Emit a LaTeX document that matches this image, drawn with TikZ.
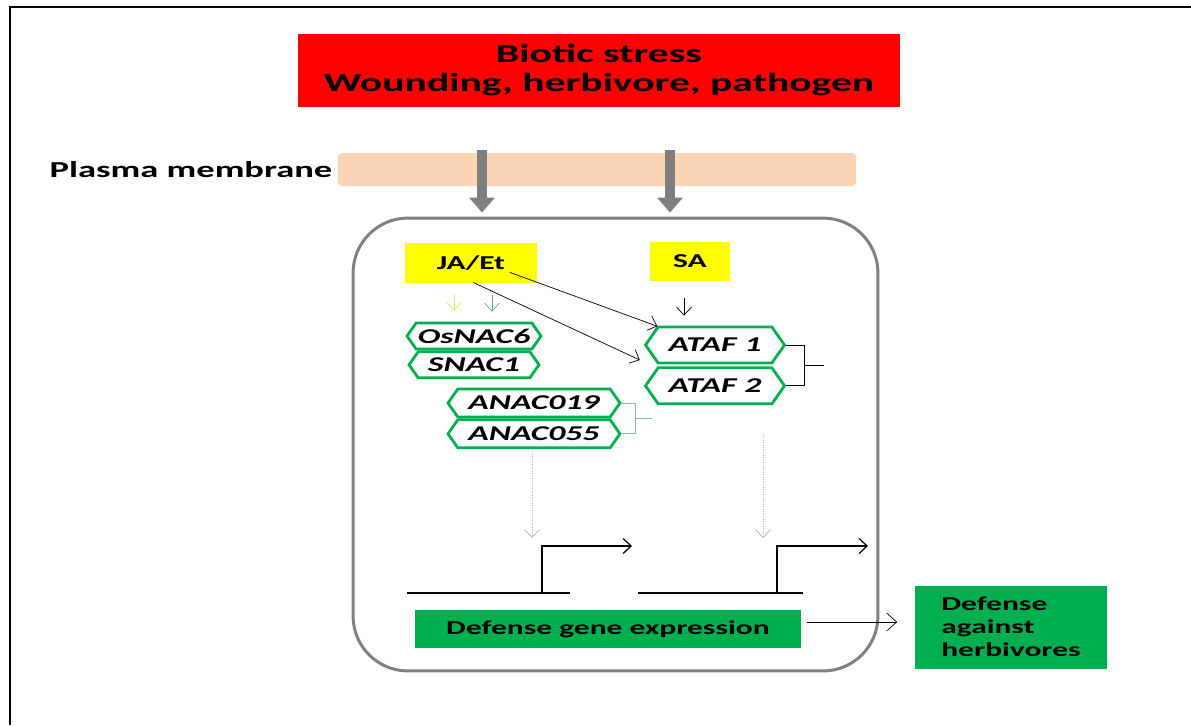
\documentclass[tikz,border=0pt]{standalone}
\usepackage{fontspec}
\setmainfont{Carlito}[FakeStretch=1.6]
\definecolor{StressRed}{HTML}{FF0000}
\definecolor{MembranePeach}{HTML}{FBD5B5}
\definecolor{ArrowGrey}{HTML}{7F7F7F}
\definecolor{CellGrey}{HTML}{808080}
\definecolor{SignalYellow}{HTML}{FFFF00}
\definecolor{NACGreen}{HTML}{00B050}
\definecolor{PaleYellow}{HTML}{E6E65C}
\definecolor{PaleTeal}{HTML}{5FAA8C}
\definecolor{BracketGreen}{HTML}{8FB5A5}
\usepackage{tikz}
\usetikzlibrary{shapes.symbols,arrows.meta,positioning,calc}
\tikzset{
    % coloured boxes
    stress box/.style={
        rectangle,
        fill=StressRed,
        minimum width=12.04cm,
        minimum height=1.46cm,
        align=center,
        font=\fontsize{14.8}{16}\selectfont\bfseries
    },
    membrane/.style={
        rectangle,
        rounded corners=2pt,
        fill=MembranePeach,
        minimum width=10.36cm,
        minimum height=0.66cm
    },
    cell/.style={
        rectangle,
        draw=CellGrey,
        line width=1.7pt,
        rounded corners=1.1cm,
        minimum width=10.5cm,
        minimum height=9.06cm
    },
    hormone/.style={
        rectangle,
        fill=SignalYellow,
        font=\fontsize{11.2}{13}\selectfont\bfseries
    },
    nac/.style={
        signal,
        signal to=west and east,
        signal pointer angle=110,
        draw=NACGreen,
        line width=1.6pt,
        fill=white,
        inner sep=1pt,
        font=\fontsize{12}{14}\selectfont\bfseries\itshape
    },
    gene box/.style={
        rectangle,
        fill=NACGreen,
        font=\fontsize{11.2}{13}\selectfont\bfseries
    },
    % connectors
    arrow/.style={
        -{Straight Barb[length=0.16cm, width=0.3cm]},
        thin
    },
    membrane arrow/.style={
        -{Triangle[length=0.3cm, width=0.5cm]},
        line width=0.2cm,
        color=ArrowGrey
    },
    dotted arrow/.style={
        arrow,
        densely dotted,
        color=gray!60
    },
    gene line/.style={
        line width=0.7pt
    }
}
\begin{document}
\begin{tikzpicture}[x=0.02cm, y=-0.02cm]
    \useasboundingbox (0,0) rectangle (1191,725);
    \draw[line width=1pt] (10,725) |- (1191,7);

    \node[stress box] (stress) at (599,70) {Biotic stress\\Wounding, herbivore, pathogen};
    \node[membrane] (membrane) at (597,169.5) {};
    \node[left=0.1cm of membrane, inner sep=0pt, font=\fontsize{13}{15}\selectfont\bfseries] (pmlabel) {Plasma membrane};
    \node[cell] (cell) at (615.5,444.5) {};

    \node[hormone, minimum width=2.66cm, minimum height=0.8cm] (jaet) at (471,263) {JA/Et};
    \node[hormone, minimum width=1.6cm, minimum height=0.78cm] (sa) at (690,261) {SA};

    \node[nac, minimum width=2.66cm, minimum height=0.52cm] (osnac6) at (474,336) {OsNAC6};
    \node[nac, minimum width=2.6cm, minimum height=0.52cm, below=0pt of osnac6] (snac1) {SNAC1};
    \node[nac, minimum width=3.44cm, minimum height=0.56cm] (anac019) at (534,403) {ANAC019};
    \node[nac, minimum width=3.44cm, minimum height=0.56cm, below=0pt of anac019] (anac055) {ANAC055};
    \node[nac, minimum width=2.78cm, minimum height=0.72cm] (ataf1) at (715,345) {ATAF 1};
    \node[nac, minimum width=2.78cm, minimum height=0.72cm, below=0.04cm of ataf1] (ataf2) {ATAF 2};

    \node[gene box, minimum width=7.74cm, minimum height=0.76cm] (dge) at (608,629) {Defense gene expression};
    \node[gene box, minimum width=3.86cm, minimum height=1.66cm, align=left] (dah) at (1011,627) {Defense\\against\\herbivores};

    % signals crossing the membrane
    \draw[membrane arrow, shorten <=-0.06cm, shorten >=0.08cm] ($(membrane.north)+(-115,0)$) -- ($(membrane.north |- cell.north)+(-115,0)$);
    \draw[membrane arrow, shorten <=-0.06cm, shorten >=0.08cm] ($(membrane.north)+(73,0)$) -- ($(membrane.north |- cell.north)+(73,0)$);

    \draw[arrow, PaleYellow, shorten <=0.24cm, shorten >=0.22cm] ($(jaet.south)+(-17,0)$) -- ($(jaet.south |- osnac6.north)+(-17,0)$);
    \draw[arrow, PaleTeal, shorten <=0.24cm, shorten >=0.2cm] ($(jaet.south)+(21,0)$) -- ($(jaet.south |- osnac6.north)+(21,0)$);
    \draw[arrow, shorten <=0.34cm, shorten >=0.2cm] ($(sa.south)+(-6,0)$) -- ($(sa.south |- ataf1.north)+(-6,0)$);
    \draw[arrow] ($(jaet.south east)+(-28,-11)$) -- (ataf1.162);
    \draw[arrow] ($(jaet.south)+(2,-1)$) -- ($(ataf1.west)+(-4,15)$);

    % brackets
    \draw (ataf1.east) -- ++(18,0) |- (ataf2.east);
    \draw ($(ataf1.east)!0.5!(ataf2.east)+(18,0)$) -- ++(20,0);
    \draw[BracketGreen] (anac019.east) -- ++(14,0) |- (anac055.east);
    \draw[BracketGreen] ($(anac019.east)!0.5!(anac055.east)+(14,0)$) -- ++(16,0);

    % promoters
    \coordinate (tss1 dot) at (532,538);
    \coordinate (ataf dot) at (763,435);
    \coordinate (tss2 dot) at (763,538);
    \coordinate (gene1 start) at (407,593);
    \coordinate (gene1 end) at (570,593);
    \coordinate (tss1) at (542,593);
    \coordinate (tss1 tip) at (632,546);
    \coordinate (gene2 start) at (638,593);
    \coordinate (gene2 end) at (803,593);
    \coordinate (tss2) at (777,593);
    \coordinate (tss2 tip) at (868,546);

    \draw[dotted arrow] ($(anac055.south)+(-2,2)$) -- (tss1 dot);
    \draw[dotted arrow] (ataf dot) -- (tss2 dot);
    \draw[gene line] (gene1 start) -- (gene1 end);
    \draw[gene line] (gene2 start) -- (gene2 end);
    \draw[arrow, gene line] (tss1) |- (tss1 tip);
    \draw[arrow, gene line] (tss2) |- (tss2 tip);

    \draw[-{Straight Barb[length=0.2cm, width=0.36cm]}, thin, shorten <=0.1cm, shorten >=0.34cm] ($(dge.east)+(0,-7)$) -- ($(dge.east -| dah.west)+(0,-7)$);
\end{tikzpicture}
\end{document}
